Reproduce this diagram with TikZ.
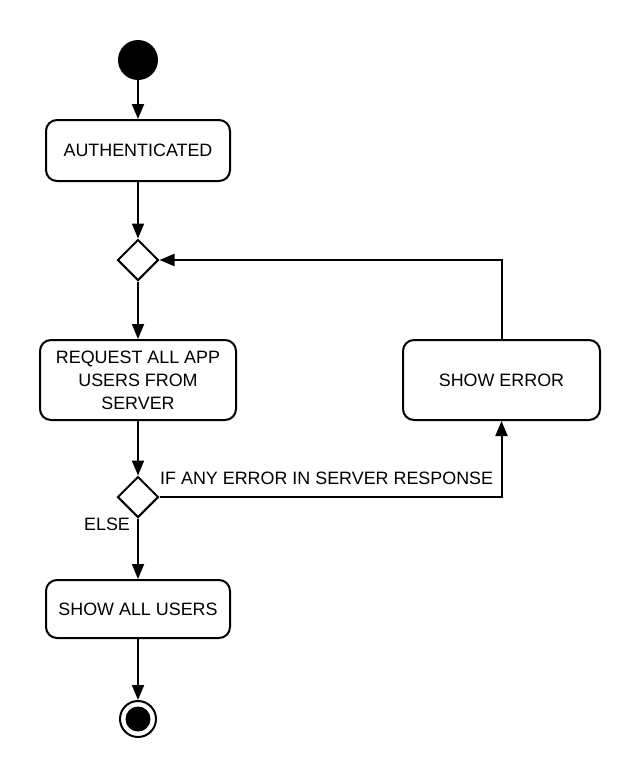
\documentclass[tikz,border=0pt]{standalone}
\usepackage{fontspec}
\setmainfont{Liberation Sans}
\usetikzlibrary{shapes.geometric,arrows.meta}
\begin{document}
\begin{tikzpicture}[x=1pt,y=-1pt,
  every node/.style={font=\fontsize{17.9}{23}\selectfont},
  box/.style={draw, line width=2pt, rounded corners=11pt, align=center, inner sep=0pt},
  dec/.style={draw, diamond, line width=2pt, minimum width=41pt, minimum height=41pt, inner sep=0pt},
  flow/.style={line width=2pt, -{Triangle[length=15pt,width=12pt]}},
  lbl/.style={inner sep=0pt}
]
\useasboundingbox (0,0) rectangle (641,780);
\node[circle, fill, minimum size=40pt, inner sep=0pt] (start) at (138,60) {};
\node[box, minimum width=184pt, minimum height=61pt] (auth) at (138,150.5) {AUTHENTICATED};
\node[dec] (d1) at (138,260) {};
\node[box, minimum width=196pt, minimum height=80pt] (req) at (138,380) {REQUEST ALL APP\\USERS FROM\\SERVER};
\node[box, minimum width=197pt, minimum height=80pt] (err) at (501.5,380) {SHOW ERROR};
\node[dec] (d2) at (138,497) {};
\node[box, minimum width=184pt, minimum height=58pt] (all) at (138,609) {SHOW ALL USERS};
\node[circle, draw, line width=2pt, minimum size=36pt, inner sep=0pt] (end) at (138,719) {};
\node[circle, fill, minimum size=25pt, inner sep=0pt] (endin) at (138,719) {};

\draw[flow] (start) -- (auth);
\draw[flow] (auth) -- (d1);
\draw[flow] (d1) -- (req);
\draw[flow] (req) -- (d2);
\draw[flow] (d2) -- (all);
\draw[flow] (all) -- (end);
\draw[flow] (d2.east) -| (err.south);
\draw[flow] (err.north) |- (d1.east);

\node[lbl, anchor=base west] (cond) at (160,484) {IF ANY ERROR IN SERVER RESPONSE};
\node[lbl] (else) at (107,524) {ELSE};
\end{tikzpicture}
\end{document}
